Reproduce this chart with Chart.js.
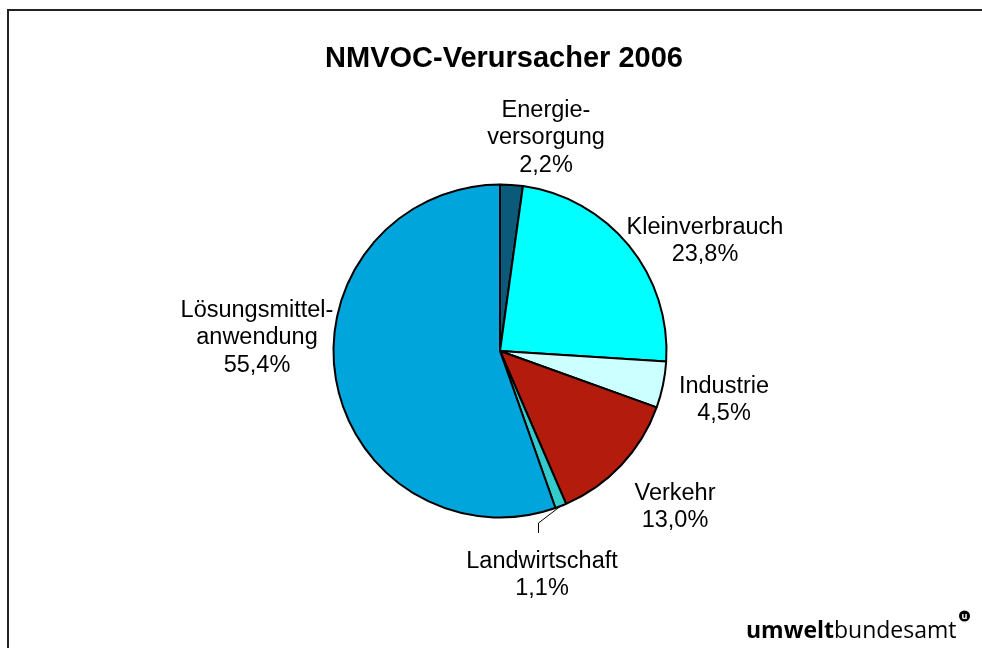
<!DOCTYPE html>
<html>
<head>
<meta charset="utf-8">
<script src="https://cdn.jsdelivr.net/npm/chart.js@4.4.0/dist/chart.umd.min.js"></script>
<style>
  html, body { margin: 0; padding: 0; background: #fff; }
  #wrap { width: 982px; height: 648px; position: relative; }
</style>
</head>
<body>
<div id="wrap"><canvas id="chart" width="982" height="648"></canvas></div>
<script>
// Daten
const chartTitle = 'NMVOC-Verursacher 2006';
const categories = ['Energieversorgung', 'Kleinverbrauch', 'Industrie', 'Verkehr', 'Landwirtschaft', 'Lösungsmittelanwendung'];
const labelLines = [['Energie-', 'versorgung'], ['Kleinverbrauch'], ['Industrie'], ['Verkehr'], ['Landwirtschaft'], ['Lösungsmittel-', 'anwendung']];
const shares = [2.2, 23.8, 4.5, 13.0, 1.1, 55.4];
const colors = ['#0b5a7a', '#00ffff', '#ccffff', '#b31b0c', '#33cccc', '#00a5dc'];

// Lage der Beschriftungen relativ zum Kreismittelpunkt
const labelOffsets = [[46, -213], [205, -110], [224, 49], [175, 156], [42, 224], [-243, -13]];

const fmt = v => v.toFixed(1).replace('.', ',') + '%';

const labelPlugin = {
  id: 'sliceLabels',
  afterDatasetsDraw(chart) {
    const ctx = chart.ctx;
    const arcs = chart.getDatasetMeta(0).data;
    ctx.save();
    ctx.font = '23.5px "Liberation Sans", Arial, sans-serif';
    ctx.fillStyle = '#000';
    ctx.textAlign = 'center';
    ctx.textBaseline = 'middle';
    const lh = 27.5;
    arcs.forEach((arc, i) => {
      const lines = labelLines[i].concat([fmt(shares[i])]);
      const cx = arc.x + labelOffsets[i][0];
      const cy = arc.y + labelOffsets[i][1];
      const top = cy - (lines.length - 1) * lh / 2;
      lines.forEach((t, j) => ctx.fillText(t, cx, top + j * lh));
    });
    // Führungslinie Landwirtschaft
    const a = arcs[4];
    const mid = (a.startAngle + a.endAngle) / 2;
    ctx.strokeStyle = '#000';
    ctx.lineWidth = 1;
    ctx.beginPath();
    ctx.moveTo(a.x + Math.cos(mid) * a.outerRadius, a.y + Math.sin(mid) * a.outerRadius);
    ctx.lineTo(a.x + 38.5, a.y + 172);
    ctx.lineTo(a.x + 38.5, a.y + 182);
    ctx.stroke();
    ctx.restore();
  }
};

const framePlugin = {
  id: 'frame',
  beforeDraw(chart) {
    const ctx = chart.ctx;
    ctx.save();
    ctx.fillStyle = '#fff';
    ctx.fillRect(0, 0, chart.width, chart.height);
    ctx.strokeStyle = '#222';
    ctx.lineWidth = 2;
    ctx.beginPath();
    ctx.moveTo(8, chart.height);
    ctx.lineTo(8, 10);
    ctx.lineTo(chart.width, 10);
    ctx.stroke();
    ctx.restore();
  },
  afterDraw(chart) {
    const ctx = chart.ctx;
    ctx.save();
    // Titel
    ctx.fillStyle = '#000';
    ctx.textAlign = 'center';
    ctx.textBaseline = 'alphabetic';
    ctx.font = 'bold 29px "Liberation Sans", Arial, sans-serif';
    ctx.fillText(chartTitle, 504, 67);
    // Logo
    ctx.textAlign = 'left';
    ctx.font = 'bold 23px "Open Sans", sans-serif';
    const x0 = 746;
    ctx.fillText('umwelt', x0, 638);
    const w = ctx.measureText('umwelt').width;
    ctx.font = '23px "Open Sans", sans-serif';
    ctx.fillText('bundesamt', x0 + w, 638);
    const w2 = ctx.measureText('bundesamt').width;
    const mx = x0 + w + w2 + 8, my = 616;
    ctx.beginPath();
    ctx.arc(mx, my, 5.5, 0, Math.PI * 2);
    ctx.fill();
    ctx.fillStyle = '#fff';
    ctx.font = 'bold 9px "Open Sans", sans-serif';
    ctx.textAlign = 'center';
    ctx.textBaseline = 'middle';
    ctx.fillText('u', mx, my);
    ctx.restore();
  }
};

new Chart(document.getElementById('chart').getContext('2d'), {
  type: 'pie',
  data: {
    labels: categories,
    datasets: [{
      data: shares,
      backgroundColor: colors,
      borderColor: '#000',
      borderWidth: 2
    }]
  },
  options: {
    responsive: false,
    animation: false,
    layout: { padding: { left: 332.5, right: 314.5, top: 183.5, bottom: 129.5 } },
    plugins: {
      legend: { display: false },
      tooltip: { enabled: false },
      title: { display: false }
    }
  },
  plugins: [framePlugin, labelPlugin]
});
</script>
</body>
</html>
